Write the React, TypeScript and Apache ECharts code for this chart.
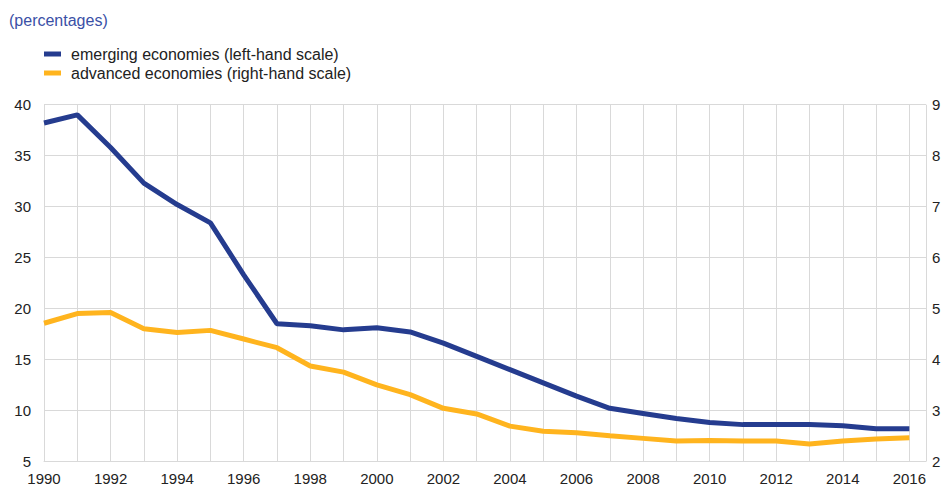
import React, { useEffect, useRef } from "react";
import * as echarts from "echarts";

const years = [1990, 1991, 1992, 1993, 1994, 1995, 1996, 1997, 1998, 1999, 2000, 2001, 2002, 2003, 2004, 2005, 2006, 2007, 2008, 2009, 2010, 2011, 2012, 2013, 2014, 2015, 2016];
const emerging = [38.2, 39.0, 35.8, 32.3, 30.2, 28.4, 23.3, 18.5, 18.3, 17.9, 18.1, 17.7, 16.6, 15.3, 14.0, 12.7, 11.4, 10.2, 9.7, 9.2, 8.8, 8.6, 8.6, 8.6, 8.5, 8.2, 8.2];
const advanced = [4.71, 4.9, 4.92, 4.6, 4.53, 4.57, 4.4, 4.23, 3.87, 3.75, 3.5, 3.31, 3.04, 2.93, 2.69, 2.59, 2.56, 2.5, 2.45, 2.4, 2.41, 2.4, 2.4, 2.34, 2.4, 2.44, 2.46];
const seriesNames = ["emerging economies (left-hand scale)", "advanced economies (right-hand scale)"];
const unitLabel = "(percentages)";

export default function App() {
  const ref = useRef<HTMLDivElement>(null);
  useEffect(() => {
    if (!ref.current) return;
    const chart = echarts.init(ref.current, null, { renderer: "svg" });
    const font = "Liberation Sans, Arial, sans-serif";
    const gridColor = "#d9d9d9";
    chart.setOption({
      animation: false,
      textStyle: { fontFamily: font },
      title: {
        text: unitLabel,
        left: 4,
        top: 7,
        textStyle: { fontFamily: font, fontSize: 16, fontWeight: "normal", color: "#3a50a6" },
      },
      legend: {
        orient: "vertical",
        left: 39,
        top: 41,
        itemWidth: 17,
        itemHeight: 5,
        itemGap: 3,
        icon: "rect",
        textStyle: { fontFamily: font, fontSize: 16, color: "#222", padding: [0, 0, 0, 5] },
        data: seriesNames,
      },
      grid: { left: 44, right: 25, top: 104.7, bottom: 40.7, containLabel: false },
      xAxis: {
        type: "value",
        min: 1990,
        max: 2016.5,
        interval: 1,
        axisLine: { show: true, lineStyle: { color: gridColor } },
        axisTick: { show: false },
        splitLine: { show: true, lineStyle: { color: gridColor, width: 1 } },
        axisLabel: {
          fontFamily: font,
          fontSize: 15,
          color: "#222",
          margin: 10,
          showMaxLabel: false,
          formatter: (v: number) => (v % 2 === 0 ? String(v) : ""),
        },
      },
      yAxis: [
        {
          type: "value",
          min: 5,
          max: 40,
          interval: 5,
          axisLine: { show: false },
          axisTick: { show: false },
          splitLine: { show: true, lineStyle: { color: gridColor, width: 1 } },
          axisLabel: { fontFamily: font, fontSize: 15, color: "#222", margin: 13 },
        },
        {
          type: "value",
          min: 2,
          max: 9,
          interval: 1,
          position: "right",
          axisLine: { show: false },
          axisTick: { show: false },
          splitLine: { show: false },
          axisLabel: { fontFamily: font, fontSize: 15, color: "#222", margin: 6 },
        },
      ],
      series: [
        {
          name: seriesNames[0],
          type: "line",
          yAxisIndex: 0,
          data: years.map((y, i) => [y, emerging[i]]),
          showSymbol: false,
          symbol: "none",
          lineStyle: { color: "#253c8f", width: 5 },
          itemStyle: { color: "#253c8f" },
          z: 3,
        },
        {
          name: seriesNames[1],
          type: "line",
          yAxisIndex: 1,
          data: years.map((y, i) => [y, advanced[i]]),
          showSymbol: false,
          symbol: "none",
          lineStyle: { color: "#ffb41e", width: 5 },
          itemStyle: { color: "#ffb41e" },
          z: 2,
        },
      ],
    });
    return () => chart.dispose();
  }, []);
  return (
    <div
      ref={ref}
      style={{ position: "absolute", left: 0, top: 0, width: 951, height: 502 }}
    />
  );
}
